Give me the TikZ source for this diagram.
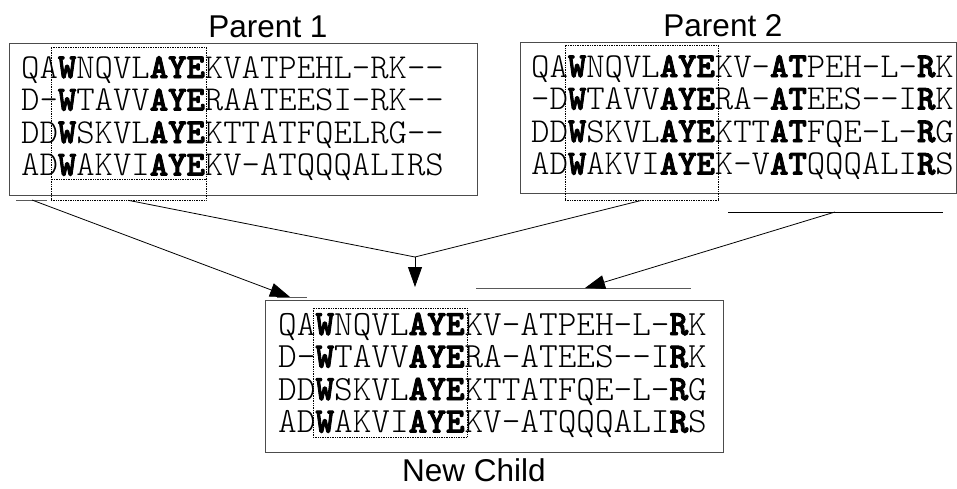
\documentclass[tikz,border=0pt]{standalone}
\usepackage{fontspec}
\usetikzlibrary{arrows.meta}
\newfontfamily\labelfont{Liberation Sans}
\newfontfamily\seqfont[Extension=.otf, BoldFont=lmmonolt10-bold, BoldFeatures={FakeBold=2.5}]{lmmonolt10-regular}
\newcommand{\cons}[1]{\textbf{#1}}

\begin{document}
\begin{tikzpicture}[x=1pt, y=-1pt, >={Triangle[length=20pt, width=14pt]},
    seqbox/.style={draw=gray!60!black, line width=0.9pt, inner sep=0pt},
    core/.style={draw, densely dotted, line width=0.7pt, inner sep=0pt},
    seq/.style={anchor=base west, inner sep=0pt, font=\seqfont\fontsize{35}{35}\selectfont},
    caption/.style={anchor=base, inner sep=0pt, font=\labelfont\fontsize{31.5}{31.5}\selectfont},
    link/.style={line width=0.8pt},
    tap/.style={gray!70!black, line width=1pt}]
    \useasboundingbox (0,0) rectangle (957,488);

    % Parent 1
    \node[seqbox, minimum width=468pt, minimum height=152pt] (p1box) at (243,119) {};
    \node[core, minimum width=155pt, minimum height=153pt] (p1core) at (128.5,123.5) {};
    \draw[densely dotted, line width=0.7pt] (p1core.west |- 0,179) -- (p1core.east |- 0,179);
    \foreach \row [count=\i] in {{QA\cons{W}NQVL\cons{AYE}KVATPEHL-RK-{}-},
                                 {D-\cons{W}TAVV\cons{AYE}RAATEESI-RK-{}-},
                                 {DD\cons{W}SKVL\cons{AYE}KTTATFQELRG-{}-},
                                 {AD\cons{W}AKVI\cons{AYE}KV-ATQQQALIRS}}
        \node[seq] (p1r\i) at (21,{78+32.5*(\i-1)}) {\row};
    \node[caption] (p1name) at (268,37) {Parent 1};

    % Parent 2
    \node[seqbox, minimum width=436pt, minimum height=151pt] (p2box) at (738,117.5) {};
    \node[core, minimum width=153pt, minimum height=155pt] (p2core) at (641.5,122.5) {};
    \foreach \row [count=\i] in {{QA\cons{W}NQVL\cons{AYE}KV-\cons{AT}PEH-L-\cons{R}K},
                                 {-D\cons{W}TAVV\cons{AYE}RA-\cons{AT}EES-{}-I\cons{R}K},
                                 {DD\cons{W}SKVL\cons{AYE}KTT\cons{AT}FQE-L-\cons{R}G},
                                 {AD\cons{W}AKVI\cons{AYE}K-V\cons{AT}QQQALI\cons{R}S}}
        \node[seq] (p2r\i) at (531,{77+32.5*(\i-1)}) {\row};
    \node[caption] (p2name) at (723,36) {Parent 2};

    % New child
    \node[seqbox, minimum width=458pt, minimum height=152pt] (childbox) at (494,376) {};
    \node[core, minimum width=154pt, minimum height=129pt] (childcore) at (390,372.5) {};
    \foreach \row [count=\i] in {{QA\cons{W}NQVL\cons{AYE}KV-ATPEH-L-\cons{R}K},
                                 {D-\cons{W}TAVV\cons{AYE}RA-ATEES-{}-I\cons{R}K},
                                 {DD\cons{W}SKVL\cons{AYE}KTTATFQE-L-\cons{R}G},
                                 {AD\cons{W}AKVI\cons{AYE}KV-ATQQQALI\cons{R}S}}
        \node[seq, font=\seqfont\fontsize{35.5}{35.5}\selectfont] (childr\i) at (278,{335+32.5*(\i-1)}) {\row};
    \node[caption] (childname) at (474,481) {New Child};

    % Attachment bars
    \coordinate (p1tap) at (32,200);
    \coordinate (p2tap) at (835,212);
    \coordinate (childtapL) at (290,297);
    \coordinate (childtapR) at (585,288);
    \coordinate (join) at (415,257);
    \coordinate (childtop) at (415,287);
    \draw[tap] (16,200) -- (47,200);
    \draw[tap] (277,297) -- (307,297);
    \draw[link] (728,212) -- (943,212);
    \draw[tap] (476,288) -- (691,288);

    % Arrows
    \draw[link, ->] (p1tap) -- (childtapL);
    \draw[link] (p1core.south) -- (join) -- (p2core.south);
    \draw[link, ->] (join) -- (childtop);
    \draw[link, ->] (p2tap) -- (childtapR);
\end{tikzpicture}
\end{document}
